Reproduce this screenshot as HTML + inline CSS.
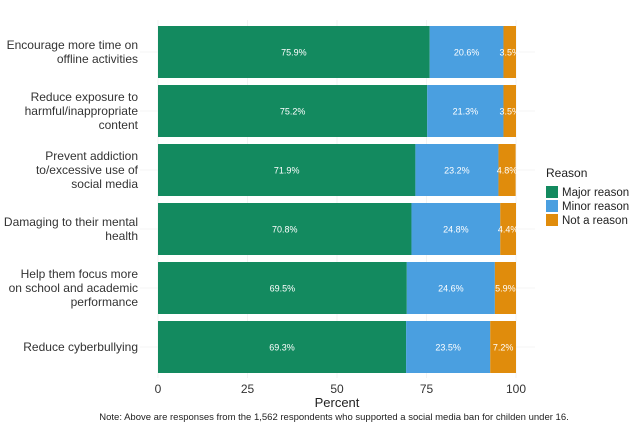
<!DOCTYPE html>
<html><head><meta charset="utf-8"><style>
body{margin:0;background:#fff;font-family:"Liberation Sans",sans-serif}
svg text{font-family:"Liberation Sans",sans-serif}
</style></head><body>
<svg width="640" height="427">
<g id="grid"></g>
<g id="bars"></g>
<g id="ylab"></g>
<g id="xlab"></g>
<text x="337" y="407" text-anchor="middle" font-size="13" fill="#222">Percent</text>
<text x="334" y="420" text-anchor="middle" font-size="9.5" fill="#222">Note: Above are responses from the 1,562 respondents who supported a social media ban for childen under 16.</text>
<g>
<text x="546" y="177" font-size="12" fill="#222">Reason</text>
<g id="legend"></g>
</g>
</svg>
<script>
const categories=["Encourage more time on|offline activities","Reduce exposure to|harmful/inappropriate|content","Prevent addiction|to/excessive use of|social media","Damaging to their mental|health","Help them focus more|on school and academic|performance","Reduce cyberbullying"];
const major=[75.9,75.2,71.9,70.8,69.5,69.3];
const minor=[20.6,21.3,23.2,24.8,24.6,23.5];
const notReason=[3.5,3.5,4.8,4.4,5.9,7.2];
const ticks=[0,25,50,75,100];
const seriesNames=["Major reason","Minor reason","Not a reason"];
const colors=["#138a5f","#4a9fe0","#e08c0c"];
const NS="http://www.w3.org/2000/svg";
const x=v=>158+v*3.58;
const yc=i=>52+i*59;
const bh=52;
function mk(tag,attrs,parent){const e=document.createElementNS(NS,tag);for(const k in attrs)e.setAttribute(k,attrs[k]);parent.appendChild(e);return e;}
const grid=document.getElementById('grid'),bars=document.getElementById('bars'),yl=document.getElementById('ylab'),xl=document.getElementById('xlab'),lg=document.getElementById('legend');
ticks.forEach(t=>{
 const l=mk('line',{x1:x(t),x2:x(t),y1:20,y2:378,stroke:'#ebebeb','stroke-width':0.6},grid);
 
 
 const tx=mk('text',{x:x(t),y:393,'text-anchor':'middle','font-size':12,fill:'#333'},xl);
 tx.textContent=t;
 
 
});
categories.forEach((c,i)=>{
 const gl=mk('line',{x1:140,x2:535,y1:yc(i),y2:yc(i),stroke:'#ebebeb','stroke-width':0.6},grid);
 
 
 const vals=[major[i],minor[i],notReason[i]];
 let acc=0;
 vals.forEach((v,s)=>{
  const r=mk('rect',{x:x(acc),y:yc(i)-bh/2,width:x(acc+v)-x(acc),height:bh,fill:colors[s]},bars);
  
  
  const t=mk('text',{x:(x(acc)+x(acc+v))/2,y:yc(i)+3.5,'text-anchor':'middle','font-size':9,fill:'#fff'},bars);
  t.textContent=v.toFixed(1)+'%';
  
  
  acc+=v;
 });
 const lines=c.split('|');
 const t=mk('text',{'text-anchor':'end','font-size':12,fill:'#333'},yl);
 
 
 lines.forEach((ln,k)=>{const ts=mk('tspan',{x:138,y:yc(i)+4+(k-(lines.length-1)/2)*14},t);ts.textContent=ln;});
});
seriesNames.forEach((n,s)=>{
 const r=mk('rect',{x:546,y:186+s*14,width:12,height:12,fill:colors[s]},lg);
 
 
 const t=mk('text',{x:562,y:196+s*14,'font-size':11.5,fill:'#222'},lg);
 t.textContent=n;
 
 
});
</script>
</body></html>
